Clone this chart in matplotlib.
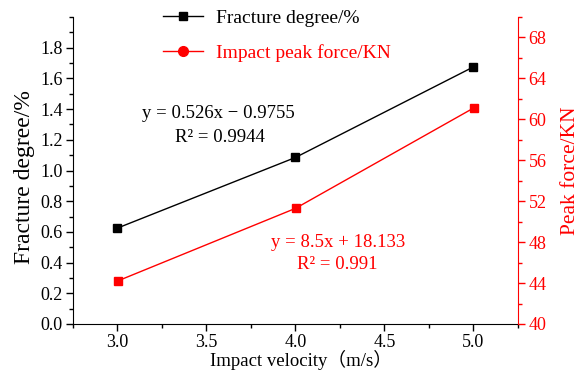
import matplotlib.pyplot as plt
from matplotlib.ticker import MultipleLocator
from matplotlib.lines import Line2D

plt.rcParams["font.family"] = ["Liberation Serif", "Noto Sans CJK SC"]

# data
velocity = [3.0, 4.0, 5.0]
fracture = [0.625, 1.085, 1.675]
peak_force = [44.2, 51.3, 61.1]

fig = plt.figure(figsize=(5.79, 3.71), dpi=100)
ax = fig.add_axes([73 / 579, 1 - 324 / 371, 445 / 579, 307 / 371])
ax2 = ax.twinx()

ax.plot(velocity, fracture, color="black", lw=1, marker="s", markersize=5.5)
ax2.plot(velocity, peak_force, color="red", lw=1, marker="s", markersize=5.5)

ax.set_xlim(2.75, 5.25)
ax.set_ylim(0, 2.0)
ax2.set_ylim(40, 70)

ax.xaxis.set_major_locator(MultipleLocator(0.5))
ax.xaxis.set_minor_locator(MultipleLocator(0.25))
ax.set_yticks([i * 0.2 for i in range(10)])
ax.yaxis.set_minor_locator(MultipleLocator(0.1))
ax2.set_yticks([40, 44, 48, 52, 56, 60, 64, 68])
ax2.yaxis.set_minor_locator(MultipleLocator(2))

for a in (ax, ax2):
    a.spines["top"].set_visible(False)
    a.tick_params(which="major", direction="out", length=5, width=1, labelsize=13, pad=2.5)
    a.tick_params(which="minor", direction="out", length=3, width=1)
ax.spines["right"].set_visible(False)
ax2.spines["left"].set_visible(False)
ax2.spines["bottom"].set_visible(False)
ax2.spines["right"].set_color("red")
ax2.tick_params(axis="y", which="both", colors="red")

ax.set_xlabel("Impact velocity（m/s）", fontsize=13.5)
ax.xaxis.set_label_coords(0.512, -0.117)
ax.set_ylabel("Fracture degree/%", fontsize=17)
ax.yaxis.set_label_coords(-0.108, 0.479)
ax2.set_ylabel("Peak force/KN", fontsize=15.5, color="red")
ax2.yaxis.set_label_coords(1.119, 0.50)
for lab in (ax.xaxis.label, ax.yaxis.label, ax2.yaxis.label):
    lab.set_va("center")
    lab.set_ha("center")

# fit annotations
ax.text(0.155, 0.687, "y = 0.526x − 0.9755", transform=ax.transAxes, fontsize=13.5, va="center")
ax.text(0.229, 0.606, "R² = 0.9944", transform=ax.transAxes, fontsize=13.5, va="center")
ax.text(0.445, 0.267, "y = 8.5x + 18.133", transform=ax.transAxes, fontsize=13.5, va="center", color="red")
ax.text(0.503, 0.195, "R² = 0.991", transform=ax.transAxes, fontsize=13.5, va="center", color="red")

handles = [
    Line2D([], [], color="black", lw=1, marker="s", markersize=5.5),
    Line2D([], [], color="red", lw=1, marker="o", markersize=7),
]
leg = fig.legend(handles, ["Fracture degree/%", "Impact peak force/KN"],
                 loc="upper left", bbox_to_anchor=(163 / 579, 1 - 9 / 371), frameon=False,
                 fontsize=14, handlelength=2.05, handletextpad=0.65, labelspacing=0.9,
                 borderpad=0, borderaxespad=0)
leg.get_texts()[1].set_color("red")

fig.savefig("out.png", dpi=100)
